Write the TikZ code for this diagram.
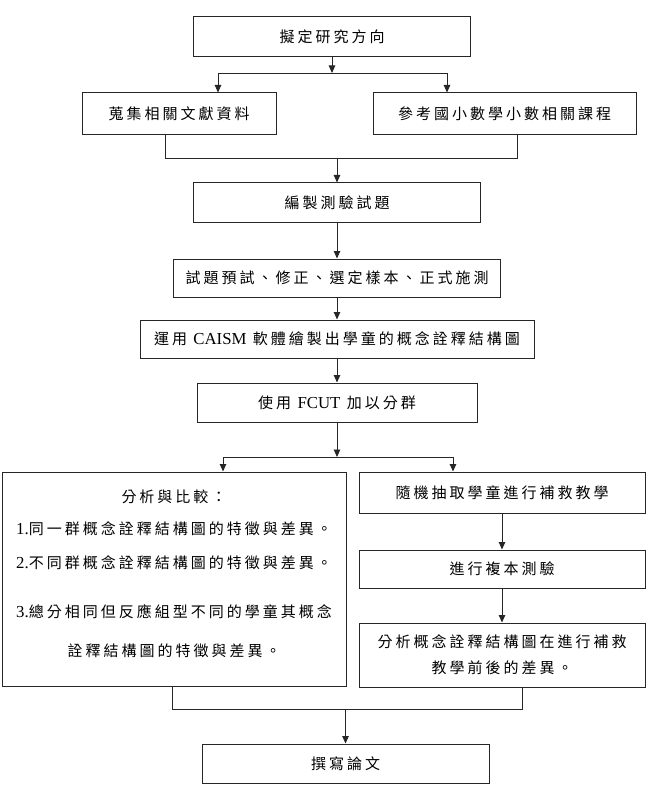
\documentclass[tikz,border=0pt]{standalone}
\usepackage{fontspec}
\setmainfont{Liberation Serif}[Scale=1.12]
\newfontfamily\cjk[LetterSpace=20]{Noto Sans CJK TC}
\usetikzlibrary{arrows.meta}
\tikzset{>={Triangle[length=7.5pt,width=6.5pt]}}

\begin{document}
\begin{tikzpicture}[x=1pt,y=-1pt,
    box/.style={draw=black!85,line width=1pt,minimum width=#1,inner sep=2pt,
        font=\fontsize{15}{18}\selectfont\cjk},
    link/.style={draw=black!85,line width=0.9pt}]
    \useasboundingbox (0,0) rectangle (650,805);
    \node[box=277pt,minimum height=40pt] (b1) at (332,37) {擬定研究方向};
    \node[box=194pt,minimum height=42pt] (b2) at (179,114) {蒐集相關文獻資料};
    \node[box=263pt,minimum height=42pt] (b3) at (504.5,114) {參考國小數學小數相關課程};
    \node[box=287pt,minimum height=39pt] (b4) at (337,202.5) {編製測驗試題};
    \node[box=327pt,minimum height=38pt] (b5) at (337,278) {試題預試、修正、選定樣本、正式施測};
    \node[box=394pt,minimum height=38pt] (b6) at (337,339) {運用 {\rmfamily CAISM} 軟體繪製出學童的概念詮釋結構圖};
    \node[box=280pt,minimum height=39pt] (b7) at (337,402.5) {使用 {\rmfamily FCUT} 加以分群};
    \node[box=344pt,minimum height=214pt,align=center] (b8) at (174,579)
        {分析與比較：\\[14pt]
        {\rmfamily 1.}同一群概念詮釋結構圖的特徵與差異。\\[16pt]
        {\rmfamily 2.}不同群概念詮釋結構圖的特徵與差異。\\[31pt]
        {\rmfamily 3.}總分相同但反應組型不同的學童其概念\\[21pt]
        詮釋結構圖的特徵與差異。\\[-6pt]\mbox{}};
    \node[box=286pt,minimum height=41pt] (b9) at (502,492.5) {隨機抽取學童進行補救教學};
    \node[box=286pt,minimum height=38pt] (b10) at (502,569) {進行複本測驗};
    \node[box=286pt,minimum height=64pt,align=center] (b11) at (502,655)
        {分析概念詮釋結構圖在進行補救\\[8pt]教學前後的差異。};
    \node[box=287pt,minimum height=39pt] (b12) at (345.5,763.5) {撰寫論文};
    \coordinate (j1) at (332,73);
    \coordinate (l1) at (218,73);
    \coordinate (r1) at (447,73);
    \coordinate (l2) at (165,158);
    \coordinate (r2) at (517,158);
    \coordinate (j3) at (337,457);
    \coordinate (l3) at (223,457);
    \coordinate (r3) at (453,457);
    \coordinate (l4) at (172,709);
    \coordinate (r4) at (522,709);
    \path[link,->] (b1) -- (j1);
    \path[link] (l1) -- (r1);
    \path[link,->] (l1) -- (l1 |- b2.north);
    \path[link,->] (r1) -- (r1 |- b3.north);
    \path[link] (l2 |- b2.south) -- (l2) -- (r2) -- (r2 |- b3.south);
    \path[link,->] (b4.north |- l2) -- (b4);
    \path[link,->] (b4) -- (b5);
    \path[link,->] (b5) -- (b6);
    \path[link,->] (b6) -- (b7);
    \path[link,->] (b7) -- (j3);
    \path[link] (l3) -- (r3);
    \path[link,->] (l3) -- (l3 |- b8.north);
    \path[link,->] (r3) -- (r3 |- b9.north);
    \path[link,->] (b9) -- (b10);
    \path[link,->] (b10) -- (b11);
    \path[link] (l4 |- b8.south) -- (l4) -- (r4) -- (r4 |- b11.south);
    \path[link,->] (b12.north |- l4) -- (b12);
\end{tikzpicture}
\end{document}
